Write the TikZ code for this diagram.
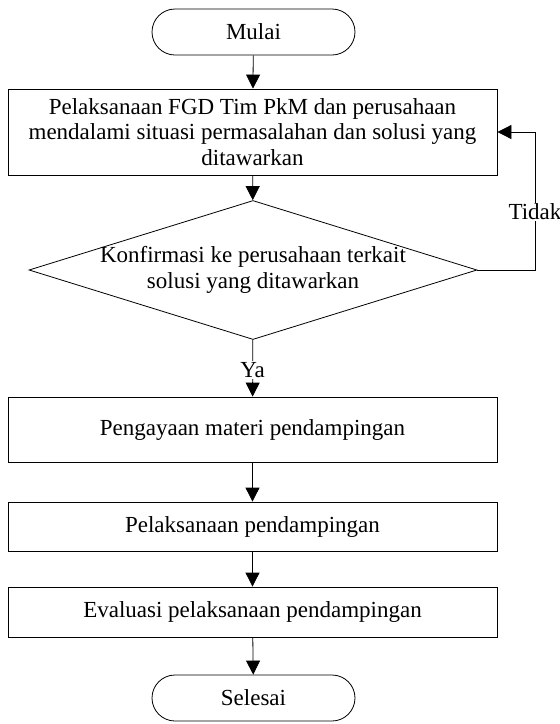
\documentclass[tikz,border=0pt]{standalone}
\usepackage{fontspec}
\setmainfont{Liberation Serif}
\usetikzlibrary{shapes.geometric,arrows.meta}
\tikzset{
  proses/.style={draw, rectangle, minimum width=489pt, align=center, inner sep=0pt},
  terminal/.style={draw, rectangle, rounded corners=23pt, minimum width=203pt, minimum height=46pt},
  keputusan/.style={draw, diamond, shape aspect=3.22, minimum width=448pt, minimum height=139pt, inner xsep=0pt, inner ysep=-4pt, align=center},
  panah/.style={-{Triangle[length=14pt,width=14pt]}},
}
\begin{document}
\begin{tikzpicture}[x=1pt, y=-1pt, line width=0.8pt, font=\fontsize{23}{25.5}\selectfont]
  \useasboundingbox (0,0) rectangle (560,724);
  % alur utama
  \node[terminal] (mulai) at (253.5,32) {Mulai};
  \node[proses, minimum height=86pt] (fgd) at (252.5,132) {Pelaksanaan FGD Tim PkM dan perusahaan\\mendalami situasi permasalahan dan solusi yang\\ditawarkan};
  \node[keputusan] (konfirmasi) at (253,270) {Konfirmasi ke perusahaan terkait\\solusi yang ditawarkan};
  \node[proses, minimum height=65pt] (pengayaan) at (252.5,429.5) {Pengayaan materi pendampingan};
  \node[proses, minimum height=49pt] (pelaksanaan) at (252.5,526.5) {Pelaksanaan pendampingan};
  \node[proses, minimum height=50pt] (evaluasi) at (252.5,612) {Evaluasi pelaksanaan pendampingan};
  \node[terminal] (selesai) at (253.5,698) {Selesai};
  \coordinate (balik) at (535,270);

  \draw[panah] (mulai) -- (fgd);
  \draw[panah] (fgd) -- (konfirmasi);
  \draw[panah] (konfirmasi) -- node[pos=0.53, fill=white, inner sep=1pt] {Ya} (pengayaan);
  \draw[panah] (pengayaan) -- (pelaksanaan);
  \draw[panah] (pelaksanaan) -- (evaluasi);
  \draw[panah] (evaluasi) -- (selesai);
  % kembali jika tidak
  \draw[panah] (konfirmasi.east) -- (balik) |- node[pos=0.21, fill=white, inner sep=1pt] {Tidak} (fgd.east);
\end{tikzpicture}
\end{document}
